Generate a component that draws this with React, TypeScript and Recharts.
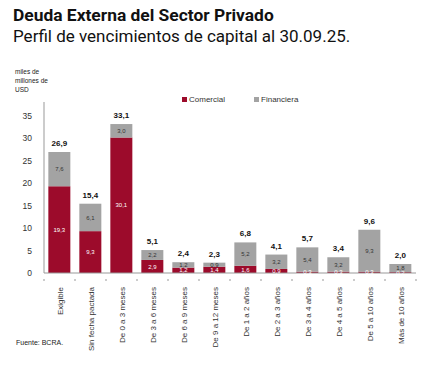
import { BarChart, Bar, XAxis, YAxis, LabelList } from "recharts"

const categories = [
  "Exigible",
  "Sin fecha pactada",
  "De 0 a 3 meses",
  "De 3 a 6 meses",
  "De 6 a 9 meses",
  "De 9 a 12 meses",
  "De 1 a 2 años",
  "De 2 a 3 años",
  "De 3 a 4 años",
  "De 4 a 5 años",
  "De 5 a 10 años",
  "Más de 10 años",
]
const comercial = [19.3, 9.3, 30.1, 2.9, 1.2, 1.4, 1.6, 0.9, 0.3, 0.3, 0.3, 0.2]
const financiera = [7.6, 6.1, 3.0, 2.2, 1.2, 0.9, 5.2, 3.2, 5.4, 3.2, 9.3, 1.8]
const totals = [26.9, 15.4, 33.1, 5.1, 2.4, 2.3, 6.8, 4.1, 5.7, 3.4, 9.6, 2.0]
const yTicks = [0, 5, 10, 15, 20, 25, 30, 35]

const RED = "#9c0b2b"
const GREY = "#a3a3a3"
const FONT = "'Liberation Sans', Arial, sans-serif"

const data = categories.map((name, i) => ({
  name,
  comercial: comercial[i],
  financiera: financiera[i],
  total: totals[i],
}))

const fmt = (v: any) => Number(v).toFixed(1).replace(".", ",")

function CatTick(props: any) {
  const { x, y, payload } = props
  const off = payload?.offset ?? 0
  return (
    <g transform={`translate(${x},${y})`}>
      <line x1={-off} x2={-off} y1={-2} y2={0} stroke="#999" />
      {payload.index === categories.length - 1 && (
        <line x1={off} x2={off} y1={-2} y2={0} stroke="#999" />
      )}
      <text
        transform="rotate(-90)"
        x={-6}
        y={3}
        textAnchor="end"
        fontSize={8}
        fill="#333"
        fontFamily={FONT}
      >
        {payload.value}
      </text>
    </g>
  )
}

export default function App() {
  return (
    <div style={{ position: "absolute", left: 0, top: 0, width: 440, height: 375, background: "#fff", fontFamily: FONT }}>
      <div style={{ position: "absolute", left: 13, top: 5, fontFamily: "Roboto, sans-serif", fontWeight: 700, fontSize: 17.4, color: "#111", whiteSpace: "nowrap" }}>
        Deuda Externa del Sector Privado
      </div>
      <div style={{ position: "absolute", left: 13, top: 26, fontFamily: "Roboto, sans-serif", fontSize: 17, color: "#111", whiteSpace: "nowrap" }}>
        Perfil de vencimientos de capital al 30.09.25.
      </div>
      <div style={{ position: "absolute", left: 15, top: 67, fontSize: 6.5, lineHeight: "9px", color: "#222" }}>
        miles de
        <br />
        millones de
        <br />
        USD
      </div>
      <div style={{ position: "absolute", left: 182, top: 95, fontSize: 8, color: "#333", display: "flex", alignItems: "center" }}>
        <span style={{ width: 5, height: 5, background: RED, display: "inline-block", marginRight: 2 }} />
        Comercial
        <span style={{ width: 5, height: 5, background: GREY, display: "inline-block", marginLeft: 29, marginRight: 2 }} />
        Financiera
      </div>
      <div style={{ position: "absolute", left: 16, top: 339, fontSize: 7, color: "#222" }}>Fuente: BCRA.</div>
      <div style={{ position: "absolute", left: 0, top: 0 }}>
        <BarChart
          width={440}
          height={375}
          data={data}
          margin={{ top: 102, right: 24, left: 0, bottom: 0 }}
          barCategoryGap="14%"
        >
          <XAxis
            dataKey="name"
            interval={0}
            height={102}
            tick={<CatTick />}
            tickLine={false}
            stroke="#999"
          />
          <YAxis
            width={44}
            domain={[0, 38]}
            ticks={yTicks}
            tickLine={false}
            tickMargin={6}
            stroke="#999"
            tick={{ fontSize: 8.5, fill: "#333", fontFamily: FONT }}
          />
          <Bar dataKey="comercial" stackId="a" fill={RED} isAnimationActive={false}>
            <LabelList dataKey="comercial" position="center" formatter={fmt} fill="#fff" fontSize={6} fontFamily={FONT} />
          </Bar>
          <Bar dataKey="financiera" stackId="a" fill={GREY} isAnimationActive={false}>
            <LabelList dataKey="financiera" position="center" formatter={fmt} fill="#333" fontSize={6} fontFamily={FONT} />
            <LabelList dataKey="total" position="top" offset={6} formatter={fmt} fill="#111" fontSize={8} fontWeight={700} fontFamily={FONT} />
          </Bar>
        </BarChart>
      </div>
    </div>
  )
}
